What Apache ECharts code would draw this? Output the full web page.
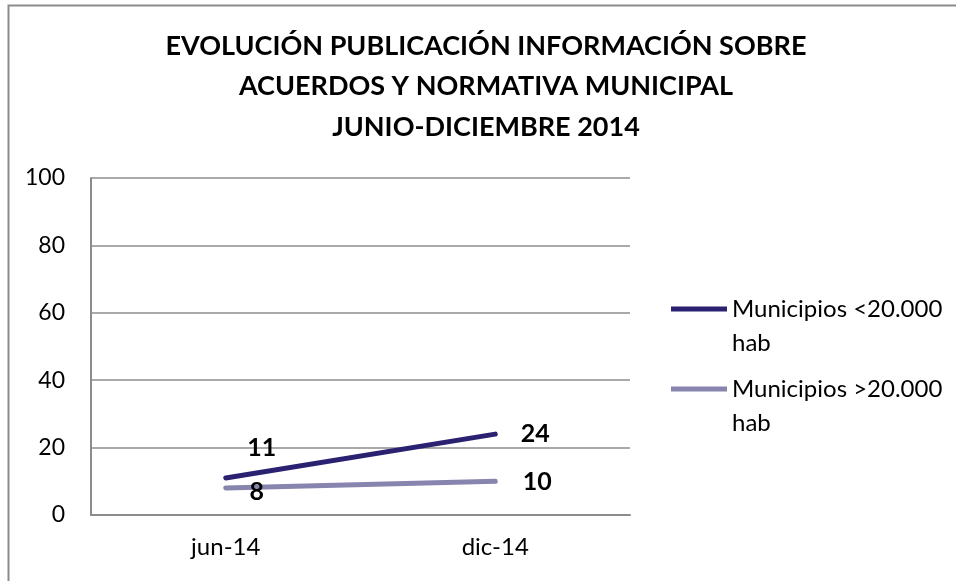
<!DOCTYPE html>
<html>
<head>
<meta charset="utf-8">
<script src="https://cdn.jsdelivr.net/npm/echarts@6/dist/echarts.min.js"></script>
<style>
  html, body { margin: 0; padding: 0; background: #fff; }
  #chart { width: 956px; height: 581px; }
</style>
</head>
<body>
<div id="chart"></div>
<script>
// datos
const categories = ['jun-14', 'dic-14'];
const seriesNames = ['Municipios <20.000 hab', 'Municipios >20.000 hab'];
const menores = [11, 24];
const mayores = [8, 10];
const yTicks = [0, 20, 40, 60, 80, 100];

const font = 'Lato, "Open Sans", sans-serif';
const colors = ['#2B2171', '#8784AD'];

// desplazamiento de etiquetas por punto (estilo, no datos)
const offsetsMenores = [[36, -30], [40, 0]];
const offsetsMayores = [[31, 4], [42, 1]];

function withLabels(values, offsets) {
  return values.map((v, i) => ({
    value: v,
    label: { show: true, position: 'inside', offset: offsets[i] }
  }));
}

const chart = echarts.init(document.getElementById('chart'));

chart.setOption({
  animation: false,
  textStyle: { fontFamily: font },
  graphic: [{
    type: 'rect',
    shape: { x: 8.5, y: 5.5, width: 1000, height: 1000 },
    style: { fill: 'none', stroke: '#8c8c8c', lineWidth: 2 },
    silent: true
  }],
  title: {
    text: 'EVOLUCIÓN PUBLICACIÓN INFORMACIÓN SOBRE\nACUERDOS Y NORMATIVA MUNICIPAL\nJUNIO-DICIEMBRE 2014',
    left: 486,
    textAlign: 'center',
    top: 26,
    padding: 0,
    textStyle: {
      fontFamily: font,
      fontSize: 27,
      fontWeight: 'bold',
      color: '#000',
      lineHeight: 40.5
    }
  },
  legend: {
    orient: 'vertical',
    left: 671,
    top: 292,
    padding: 0,
    itemWidth: 56,
    itemHeight: 39,
    itemGap: 12,
    // barra arriba + punto invisible abajo: alinea la línea con el primer renglón
    icon: 'path://M0,0 L56,0 L56,5 L0,5 Z M0,39',
    data: seriesNames,
    formatter: name => name.replace(' hab', '\nhab'),
    textStyle: {
      fontFamily: font,
      fontSize: 24,
      color: '#000',
      lineHeight: 34
    }
  },
  grid: { left: 91, right: 326, top: 178, bottom: 66 },
  xAxis: {
    type: 'category',
    data: categories,
    boundaryGap: true,
    axisLine: { lineStyle: { color: '#8c8c8c', width: 2 } },
    axisTick: { show: false },
    axisLabel: { fontFamily: font, fontSize: 24, color: '#000', margin: 20 }
  },
  yAxis: {
    type: 'value',
    min: yTicks[0],
    max: yTicks[yTicks.length - 1],
    interval: 20,
    axisLine: { show: true, lineStyle: { color: '#8c8c8c', width: 2 } },
    axisTick: { show: false },
    axisLabel: { fontFamily: font, fontSize: 23, color: '#000', margin: 26 },
    splitLine: { lineStyle: { color: '#8c8c8c', width: 1.5 } }
  },
  series: [
    {
      name: seriesNames[0],
      type: 'line',
      data: withLabels(menores, offsetsMenores),
      showSymbol: true,
      symbol: 'circle',
      symbolSize: 0,
      lineStyle: { color: colors[0], width: 5, cap: 'round' },
      itemStyle: { color: colors[0] },
      label: { fontFamily: font, fontSize: 25, fontWeight: 'bold', color: '#000' }
    },
    {
      name: seriesNames[1],
      type: 'line',
      data: withLabels(mayores, offsetsMayores),
      showSymbol: true,
      symbol: 'circle',
      symbolSize: 0,
      lineStyle: { color: colors[1], width: 5, cap: 'round' },
      itemStyle: { color: colors[1] },
      label: { fontFamily: font, fontSize: 25, fontWeight: 'bold', color: '#000' }
    }
  ]
});
</script>
</body>
</html>
